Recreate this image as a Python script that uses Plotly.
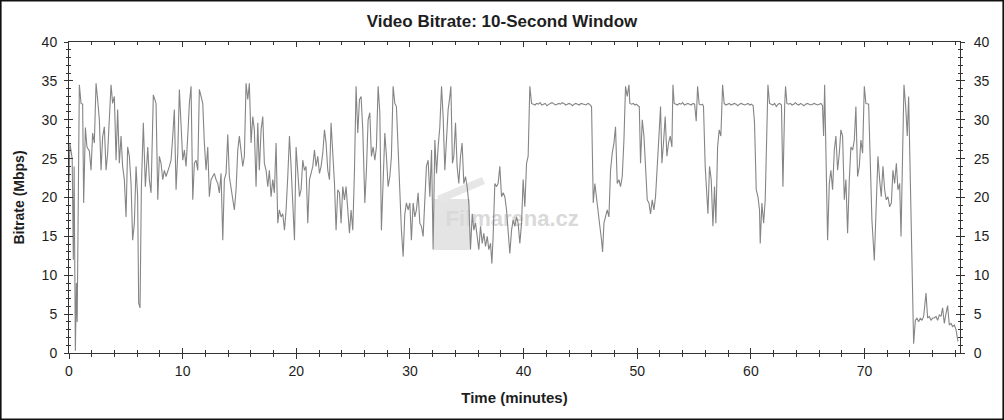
import plotly.graph_objects as go

# ---------------- data (minutes, Mbps) ----------------
t_a = [0.00, 0.08, 0.18, 0.28, 0.38, 0.45, 0.56, 0.65, 0.72, 0.80, 0.91,
       1.06, 1.20, 1.29, 1.44, 1.58, 1.79, 1.94, 2.08, 2.23, 2.38, 2.52, 2.67, 2.82, 2.96,
       3.11, 3.26, 3.40, 3.55, 3.70, 3.84, 3.99, 4.14, 4.28, 4.43, 4.58, 4.72, 4.87, 5.02,
       5.16, 5.31, 5.46, 5.60, 5.75, 5.90, 6.04, 6.13, 6.25, 6.37, 6.54, 6.72, 6.93, 7.07,
       7.22, 7.42, 7.66, 7.81, 7.95, 8.10, 8.25, 8.39, 8.54, 8.83, 8.98, 9.13, 9.27, 9.42,
       9.57, 9.71, 9.86, 10.01, 10.15, 10.30, 10.45, 10.59, 10.74, 10.89, 11.03, 11.18,
       11.33, 11.47, 11.62, 11.77, 11.91, 12.06, 12.21, 12.35, 12.50, 12.65, 12.79, 12.94]
v_a = [22.0, 27.0, 26.0, 25.0, 12.0, 24.0, 0.3, 9.0, 4.0, 19.0, 34.5,
       32.1, 32.0, 19.3, 29.0, 26.5, 26.0, 23.5, 28.3, 27.0, 34.7, 32.6, 30.0, 23.5, 27.8,
       29.1, 23.5, 25.7, 30.0, 34.5, 32.1, 33.0, 24.8, 31.3, 24.4, 27.9, 24.0, 22.3, 17.5,
       26.5, 25.3, 21.8, 14.5, 16.7, 24.0, 20.1, 6.4, 5.8, 21.4, 29.6, 21.4, 26.5, 22.3,
       20.6, 33.2, 32.1, 19.7, 25.3, 24.4, 22.3, 23.5, 22.7, 24.0, 24.8, 27.9, 31.3, 21.0,
       25.7, 33.9, 29.1, 24.8, 26.1, 24.0, 27.9, 32.1, 34.3, 19.7, 24.4, 24.8,
       23.5, 33.9, 33.0, 32.1, 27.0, 23.5, 26.5, 20.1, 22.3, 22.7, 23.1, 22.3]

t_b = [13.09, 13.23, 13.38, 13.53, 13.67, 13.82, 13.97, 14.11, 14.26, 14.41, 14.55, 14.70,
       14.85, 14.99, 15.14, 15.29, 15.43, 15.58, 15.73, 15.87, 16.02, 16.17, 16.31, 16.46,
       16.61, 16.75, 16.90, 17.05, 17.19, 17.34, 17.49, 17.63, 17.78, 17.93, 18.07, 18.22,
       18.37, 18.51, 18.66, 18.81, 18.96, 19.10, 19.25, 19.40, 19.54, 19.69, 19.84, 19.98,
       20.13, 20.28, 20.42, 20.57, 20.72, 20.86, 21.01, 21.16, 21.30, 21.45, 21.60, 21.74,
       21.89, 22.04, 22.18, 22.33, 22.48, 22.62, 22.77, 22.92, 23.06, 23.21, 23.36, 23.50,
       23.65, 23.80, 23.94, 24.09, 24.24, 24.38, 24.53, 24.68, 24.82, 24.97, 25.12, 25.26,
       25.41, 25.56, 25.70, 25.85]
v_b = [21.8, 20.6, 23.1, 14.5, 22.3, 23.1, 28.1, 22.7, 21.0, 19.7, 18.4, 21.0,
       26.1, 27.9, 26.1, 24.0, 25.3, 34.7, 32.6, 34.7, 27.0, 30.4, 28.7, 21.4,
       29.6, 23.5, 28.7, 30.4, 24.4, 23.5, 21.4, 23.5, 20.1, 22.3, 20.6, 27.0,
       16.7, 18.4, 17.5, 17.9, 15.8, 18.4, 22.7, 27.9, 24.0, 20.1, 14.5, 26.5,
       23.1, 20.1, 21.0, 24.8, 23.5, 24.0, 16.7, 22.3, 23.1, 24.0, 26.1, 24.0,
       25.3, 23.1, 24.0, 25.7, 28.7, 27.0, 23.5, 22.3, 29.6, 25.3, 21.8, 15.8,
       21.0, 20.6, 16.7, 21.4, 19.7, 21.4, 18.4, 15.4, 18.4, 15.8, 23.5, 34.3,
       28.3, 32.6, 33.0, 28.7]

t_c = [26.03, 26.17, 26.32, 26.47, 26.61, 26.76, 26.91, 27.05, 27.20, 27.35, 27.49, 27.64,
       27.79, 27.93, 28.08, 28.23, 28.37, 28.52, 28.67, 28.81, 28.96, 29.11, 29.25, 29.40,
       29.55, 29.69, 29.84, 29.99, 30.13, 30.28, 30.43, 30.57, 30.72, 30.87, 31.01, 31.16,
       31.31, 31.45, 31.60, 31.75, 31.90, 32.04, 32.19, 32.34, 32.48, 32.63, 32.78, 32.92,
       33.07, 33.22, 33.36, 33.51, 33.60, 33.74, 33.86, 34.01, 34.15, 34.30, 34.45, 34.59,
       34.74, 34.89, 35.03, 35.18, 35.33, 35.48, 35.62, 35.77, 35.92, 36.06, 36.21, 36.36,
       36.50, 36.65, 36.80, 36.94, 37.09, 37.21, 37.32, 37.47, 37.62, 37.76, 37.91, 38.06,
       38.20, 38.35, 38.50, 38.64, 38.79, 38.94, 39.08, 39.23, 39.38, 39.52, 39.67, 39.82,
       39.96, 40.11, 40.26, 40.40, 40.55, 40.70]
v_c = [19.3, 23.5, 30.0, 30.9, 25.3, 26.5, 24.8, 26.5, 34.3, 30.9, 15.8, 22.7,
       28.3, 25.3, 21.4, 22.7, 25.3, 34.3, 32.1, 31.7, 26.5, 20.1, 15.8, 12.4,
       17.9, 19.3, 18.4, 19.3, 14.5, 19.3, 17.5, 18.4, 20.6, 16.7, 16.3, 15.0,
       19.3, 24.0, 24.8, 20.1, 26.1, 13.3, 27.4, 23.1, 26.5, 29.1, 34.3, 30.4,
       23.5, 27.9, 31.3, 33.0, 34.3, 24.4, 25.3, 29.6, 24.0, 21.8, 25.3, 27.0,
       21.8, 22.7, 21.4, 19.3, 13.3, 17.9, 15.8, 16.7, 15.0, 13.3, 16.3, 14.1,
       15.4, 13.7, 15.0, 13.3, 14.1, 11.5, 15.0, 21.8, 21.4, 21.8, 24.0, 20.1,
       20.6, 20.1, 18.4, 15.8, 12.8, 15.8, 17.1, 16.3, 17.5, 16.7, 14.1, 16.7,
       22.3, 18.8, 24.4, 25.3, 34.3, 32.1]

t_d = [40.85, 41.00, 41.15, 41.30, 41.45, 41.60, 41.75, 41.90, 42.05, 42.20, 42.35, 42.50,
       42.65, 42.80, 42.95, 43.10, 43.25, 43.40, 43.55, 43.70, 43.85, 44.00, 44.15, 44.30,
       44.45, 44.60, 44.75, 44.90, 45.05, 45.20, 45.35, 45.50, 45.65, 45.80]
v_d = [32.0, 31.9, 32.1, 32.0, 32.2, 31.9, 32.0, 32.1, 31.8, 32.0, 32.1, 32.2,
       32.0, 31.9, 32.0, 32.1, 32.0, 32.2, 32.1, 31.9, 32.0, 32.1, 32.0, 31.8,
       32.0, 32.1, 32.0, 31.9, 32.1, 32.0, 32.0, 31.9, 32.1, 32.0]

t_e = [45.98, 46.13, 46.27, 46.42, 46.57, 46.71, 46.86, 46.95, 47.07, 47.21, 47.36, 47.51,
       47.65, 47.80, 47.95, 48.09, 48.24, 48.39, 48.53, 48.68, 48.83, 48.97, 49.12, 49.27,
       49.35, 49.50, 49.65, 49.80, 49.94, 50.06, 50.18, 50.29, 50.44, 50.59, 50.73, 50.88,
       51.03, 51.17, 51.32, 51.47, 51.61, 51.76, 51.91, 52.05,
       52.17, 52.31, 52.46, 52.61, 52.75, 52.90, 53.05, 53.14, 53.25]
v_e = [31.7, 19.3, 21.8, 19.7, 17.5, 16.3, 14.5, 13.0, 16.7, 17.5, 18.4, 17.5,
       23.5, 25.7, 27.0, 29.1, 21.8, 22.3, 21.4, 22.7, 27.4, 34.3, 33.0, 34.5,
       32.1, 32.0, 32.1, 31.9, 32.0, 31.8, 31.7, 24.4, 30.0, 27.9, 23.1, 19.7,
       19.3, 17.9, 19.7, 18.4, 20.1, 23.5, 27.9, 31.7,
       24.4, 27.0, 30.4, 25.3, 27.0, 27.9, 26.5, 34.5, 32.1]

t_f = [53.40, 53.55, 53.70, 53.85, 54.00, 54.15, 54.30, 54.45, 54.60, 54.75, 54.90, 55.05,
       55.19, 55.31, 55.45, 55.60, 55.75,
       55.83, 55.98, 56.13, 56.22, 56.36, 56.51, 56.66, 56.80, 56.92, 57.07, 57.21, 57.36,
       57.51, 57.65,
       57.80, 57.95, 58.10, 58.25, 58.40, 58.55, 58.70, 58.85, 59.00, 59.15, 59.30, 59.45,
       59.60, 59.75, 59.90, 60.05, 60.20,
       60.32, 60.47, 60.62, 60.76, 60.82, 60.97, 61.12, 61.26, 61.41, 61.50, 61.64,
       61.79, 61.94, 62.09, 62.24, 62.39, 62.54, 62.69,
       62.82, 62.97, 63.05, 63.17]
v_f = [32.0, 31.9, 32.1, 32.0, 32.2, 31.9, 32.0, 32.1, 32.0, 31.9, 32.1, 32.0,
       29.8, 34.3, 32.0, 31.9, 32.0,
       31.7, 24.0, 19.3, 17.9, 24.0, 22.3, 16.3, 21.4, 16.7, 26.5, 28.7, 27.9,
       34.5, 32.1,
       31.9, 32.0, 32.1, 31.9, 32.0, 32.1, 32.0, 31.8, 32.0, 32.1, 32.0, 31.9,
       32.0, 32.1, 31.9, 32.0, 31.8,
       29.6, 21.0, 20.1, 18.4, 14.1, 19.3, 16.7, 19.7, 27.9, 34.5, 32.1,
       32.0, 31.9, 32.1, 31.7, 32.0, 32.1, 31.9,
       21.4, 31.7, 34.3, 32.1]

t_g = [63.32, 63.47, 63.62, 63.77, 63.92, 64.07, 64.22, 64.37, 64.52, 64.67, 64.82, 64.97,
       65.12, 65.27, 65.42, 65.57, 65.72, 65.87, 66.02, 66.17, 66.30,
       66.40, 66.49, 66.60, 66.75, 66.90, 67.04, 67.19, 67.34, 67.48, 67.63, 67.78, 67.92,
       68.07, 68.22, 68.36, 68.51, 68.66, 68.80, 68.95, 69.10, 69.24, 69.39, 69.54, 69.68,
       69.83, 69.98, 70.12, 70.36, 70.51, 70.65, 70.86, 71.03, 71.18, 71.33, 71.47, 71.62,
       71.77, 71.91, 72.06, 72.21, 72.36, 72.50, 72.65, 72.80, 72.94, 73.09, 73.21, 73.35,
       73.47, 73.62, 73.76, 73.88, 74.03, 74.17, 74.32]
v_g = [32.0, 32.1, 31.9, 32.0, 32.2, 32.0, 31.9, 32.1, 32.0, 31.8, 32.0, 32.1,
       32.0, 31.9, 32.0, 32.1, 32.0, 31.9, 32.0, 32.1, 31.8,
       27.9, 34.5, 23.5, 14.5, 21.8, 23.5, 21.0, 26.1, 27.9, 23.5, 25.7, 28.7,
       27.9, 19.7, 22.3, 15.4, 22.3, 26.5, 26.1, 27.4, 31.7, 22.7, 24.0, 27.4,
       25.7, 34.3, 32.1, 32.0, 24.4, 17.1, 11.9, 19.3, 25.3, 22.3, 20.1, 24.0,
       21.0, 19.7, 20.1, 18.8, 19.3, 23.5, 21.8, 24.4, 21.0, 21.8, 15.0, 25.7,
       34.5, 31.7, 27.9, 33.0, 20.6, 10.9, 1.2]

t_h = [74.47, 74.61, 74.76, 74.91, 75.05, 75.20, 75.41, 75.55, 75.70, 75.85, 75.99, 76.14,
       76.29, 76.43, 76.58, 76.73, 76.87, 77.02, 77.17, 77.31, 77.46, 77.61, 77.75, 77.90,
       78.05, 78.14, 78.22]
v_h = [4.2, 4.5, 4.0, 4.5, 4.2, 4.7, 7.7, 4.5, 4.7, 4.2, 4.5, 4.5,
       4.7, 4.2, 4.9, 4.7, 5.8, 3.8, 5.1, 6.1, 3.6, 3.8, 3.4, 3.6,
       3.0, 1.7, 1.5]

time_min = t_a + t_b + t_c + t_d + t_e + t_f + t_g + t_h
bitrate_mbps = v_a + v_b + v_c + v_d + v_e + v_f + v_g + v_h
assert len(time_min) == len(bitrate_mbps)

x_range = [0, 78.4]
y_range = [0, 40]
x_ticks = [0, 10, 20, 30, 40, 50, 60, 70]
y_ticks = [0, 5, 10, 15, 20, 25, 30, 35, 40]

title_text = "Video Bitrate: 10-Second Window"
x_title = "Time (minutes)"
y_title = "Bitrate (Mbps)"
watermark = "Filmarena.cz"

# ---------------- figure ----------------
FONT = "Arial, Liberation Sans, sans-serif"
TXT = "#1e1e1e"
AX = "#333333"
W, H = 1004, 420
ML, MR, MT, MB = 69, 44, 42, 67
PW, PH = W - ML - MR, H - MT - MB


def px_x(p):
    return (p - ML) / PW


def px_y(p):
    return (H - MB - p) / PH


fig = go.Figure()

# watermark text (below the line)
fig.add_trace(go.Scatter(
    x=[39.0], y=[17.0], mode="text", text=[watermark],
    textfont=dict(family=FONT, size=22, color="#d9d9d9", weight="bold"),
    hoverinfo="skip", showlegend=False))

fig.add_trace(go.Scatter(
    x=time_min, y=bitrate_mbps, mode="lines",
    line=dict(color="#858585", width=1.1),
    hoverinfo="skip", showlegend=False))

# empty traces to activate the overlay axes
fig.add_trace(go.Scatter(x=[], y=[], xaxis="x2", yaxis="y2", showlegend=False))
fig.add_trace(go.Scatter(x=[], y=[], xaxis="x", yaxis="y3", showlegend=False))

tickfont = dict(family=FONT, size=14, color=TXT)

fig.update_layout(
    width=W, height=H,
    margin=dict(l=ML, r=MR, t=MT, b=MB),
    paper_bgcolor="white", plot_bgcolor="white",
    showlegend=False,
    title=dict(text=title_text, x=0.5, xref="container", xanchor="center",
               y=1 - 21 / H, yref="container", yanchor="middle",
               font=dict(family=FONT, size=17, color=TXT, weight="bold")),
    xaxis=dict(range=x_range, tickvals=x_ticks, ticks="outside", ticklen=5,
               tickcolor=AX, tickwidth=1,
               minor=dict(dtick=2, tick0=0, ticks="outside", ticklen=3, tickcolor=AX),
               showline=True, linecolor=AX, linewidth=1, mirror=False,
               showgrid=False, zeroline=False, tickfont=tickfont,
               title=dict(text=x_title, standoff=14,
                          font=dict(family=FONT, size=15, color=TXT, weight="bold"))),
    xaxis2=dict(range=x_range, overlaying="x", anchor="y2", side="bottom",
                tickvals=x_ticks, ticks="inside", ticklen=5, tickcolor=AX,
                minor=dict(dtick=2, tick0=0, ticks="inside", ticklen=3, tickcolor=AX),
                showline=True, linecolor=AX, linewidth=1, mirror="ticks",
                showgrid=False, zeroline=False, showticklabels=False),
    yaxis=dict(range=y_range, tickvals=y_ticks, ticks="outside", ticklen=4,
               tickcolor=AX, tickwidth=1,
               minor=dict(dtick=1, tick0=0, ticks="outside", ticklen=2, tickcolor=AX),
               showline=True, linecolor=AX, linewidth=1,
               showgrid=False, zeroline=False, tickfont=tickfont,
               ticklabelstandoff=4,
               title=dict(text=y_title, standoff=13,
                          font=dict(family=FONT, size=14, color=TXT, weight="bold"))),
    yaxis2=dict(range=y_range, overlaying="y", anchor="x2", side="left",
                tickvals=y_ticks, ticks="inside", ticklen=4, tickcolor=AX,
                minor=dict(dtick=1, tick0=0, ticks="inside", ticklen=2, tickcolor=AX),
                showline=True, linecolor=AX, linewidth=1, mirror="ticks",
                showgrid=False, zeroline=False, showticklabels=False),
    yaxis3=dict(range=y_range, overlaying="y", anchor="x", side="right",
                tickvals=y_ticks, ticks="outside", ticklen=4, tickcolor=AX,
                minor=dict(dtick=1, tick0=0, ticks="outside", ticklen=2, tickcolor=AX),
                showline=True, linecolor=AX, linewidth=1,
                showgrid=False, zeroline=False, tickfont=tickfont,
                ticklabelstandoff=6),
)

# clapperboard part of the watermark
fig.add_shape(type="rect", xref="paper", yref="paper", layer="below",
              x0=px_x(434), x1=px_x(470), y0=px_y(250), y1=px_y(199),
              fillcolor="#e4e4e4", line=dict(width=0))
fig.add_shape(type="path", xref="paper", yref="paper", layer="below",
              path=(f"M {px_x(437)} {px_y(196)} L {px_x(482)} {px_y(177)} "
                    f"L {px_x(485)} {px_y(184)} L {px_x(440)} {px_y(203)} Z"),
              fillcolor="#e6e6e6", line=dict(width=0))

# outer frame
fig.add_shape(type="rect", xref="paper", yref="paper", layer="above",
              x0=px_x(0.8), x1=px_x(1003.2), y0=px_y(419.2), y1=px_y(0.8),
              line=dict(color="#111111", width=1.6), fillcolor="rgba(0,0,0,0)")

fig.write_html("out.html", config={"displayModeBar": False},
               post_script="document.body.style.margin='0px';")
